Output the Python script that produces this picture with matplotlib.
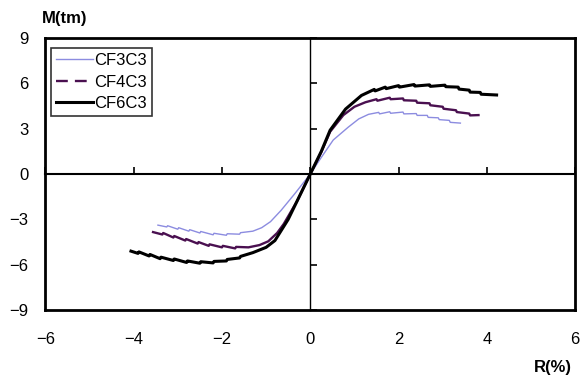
import matplotlib.pyplot as plt
from matplotlib.lines import Line2D

plt.rcParams['font.family'] = ['Liberation Sans', 'DejaVu Sans']

# CF3C3
x3 = [-3.45, -3.25, -3.23, -3.0, -2.98, -2.75, -2.73, -2.5, -2.48, -2.2, -2.18, -1.9, -1.88,
      -1.6, -1.58, -1.3, -1.1, -0.9, -0.66, -0.35, 0.0, 0.25, 0.52, 0.86, 1.1, 1.32, 1.55,
      1.57, 1.8, 1.82, 2.1, 2.12, 2.4, 2.42, 2.65, 2.67, 2.9, 2.92, 3.15, 3.17, 3.4]
y3 = [-3.38, -3.5, -3.42, -3.65, -3.55, -3.78, -3.68, -3.9, -3.8, -4.02, -3.92, -4.05, -3.95,
      -3.98, -3.88, -3.78, -3.55, -3.15, -2.4, -1.3, 0.0, 1.1, 2.25, 3.1, 3.65, 3.95, 4.08,
      3.98, 4.12, 4.02, 4.1, 3.98, 4.0, 3.88, 3.88, 3.75, 3.72, 3.6, 3.55, 3.42, 3.37]

# CF4C3
x4 = [-3.56, -3.35, -3.33, -3.1, -3.08, -2.83, -2.81, -2.55, -2.53, -2.3, -2.28, -2.0, -1.98,
      -1.7, -1.68, -1.4, -1.15, -0.95, -0.75, -0.6, -0.3, 0.0, 0.25, 0.45, 0.75, 1.0, 1.25,
      1.5, 1.52, 1.8, 1.82, 2.1, 2.12, 2.4, 2.42, 2.7, 2.72, 3.0, 3.02, 3.3, 3.32, 3.6, 3.62, 3.81]
y4 = [-3.84, -4.0, -3.9, -4.2, -4.1, -4.4, -4.3, -4.6, -4.5, -4.75, -4.65, -4.85, -4.75,
      -4.92, -4.82, -4.85, -4.7, -4.45, -3.9, -3.3, -1.8, 0.0, 1.45, 2.8, 3.9, 4.45, 4.75,
      4.95, 4.85, 5.05, 4.95, 5.0, 4.88, 4.85, 4.72, 4.68, 4.55, 4.45, 4.32, 4.22, 4.1, 4.0, 3.88, 3.9]

# CF6C3
x6 = [-4.06, -3.9, -3.88, -3.65, -3.63, -3.4, -3.38, -3.1, -3.08, -2.8, -2.78, -2.5, -2.48,
      -2.2, -2.18, -1.9, -1.88, -1.6, -1.58, -1.3, -1.0, -0.8, -0.5, -0.25, 0.0, 0.25, 0.45,
      0.8, 1.16, 1.45, 1.47, 1.7, 1.72, 2.0, 2.02, 2.35, 2.37, 2.7, 2.72, 3.05, 3.07, 3.35,
      3.37, 3.6, 3.62, 3.85, 3.87, 4.22]
y6 = [-5.1, -5.25, -5.15, -5.42, -5.32, -5.6, -5.5, -5.72, -5.62, -5.85, -5.75, -5.9, -5.8,
      -5.88, -5.78, -5.75, -5.65, -5.55, -5.45, -5.2, -4.85, -4.4, -3.0, -1.5, 0.0, 1.5, 2.9,
      4.3, 5.2, 5.6, 5.5, 5.75, 5.65, 5.85, 5.75, 5.92, 5.82, 5.9, 5.8, 5.88, 5.78, 5.75,
      5.62, 5.55, 5.42, 5.4, 5.28, 5.23]

xticks = [-6, -4, -2, 0, 2, 4, 6]
yticks = [-9, -6, -3, 0, 3, 6, 9]

fig = plt.figure(figsize=(5.81, 3.80), dpi=100)
rect = [0.078, 0.184, 0.912, 0.716]
ax = fig.add_axes(rect)

# overlay axes whose spines sit on the zero lines, ticks only
ax0 = fig.add_axes(rect, sharex=ax, sharey=ax)
ax0.patch.set_visible(False)
ax0.spines['left'].set_position(('data', 0))
ax0.spines['bottom'].set_position(('data', 0))
ax0.spines['right'].set_visible(False)
ax0.spines['top'].set_visible(False)
ax0.spines['left'].set_linewidth(1)
ax0.spines['bottom'].set_linewidth(1.5)
ax0.tick_params(direction='in', length=5, width=1.2, labelleft=False, labelbottom=False)

c3, c4, c6 = '#8c8ce0', '#4a1050', 'black'
ax0.plot(x3, y3, color=c3, lw=1.0)
ax0.plot(x4, y4, color=c4, lw=1.7)
ax0.plot(x6, y6, color=c6, lw=2.2)

ax.set_xlim(-6, 6)
ax.set_ylim(-9, 9)
ax.set_xticks(xticks)
ax.set_yticks(yticks)
ax.tick_params(length=0, labelsize=12)
ax.tick_params(axis='x', pad=16, labelbottom=True)
ax.tick_params(axis='y', pad=12, labelleft=True)
for s in ax.spines.values():
    s.set_linewidth(2)

handles = [Line2D([], [], color=c3, lw=1.0),
           Line2D([], [], color=c4, lw=1.7, dashes=(5, 3)),
           Line2D([], [], color=c6, lw=2.2)]
leg = ax0.legend(handles, ['CF3C3', 'CF4C3', 'CF6C3'], loc='upper left',
                 bbox_to_anchor=(0.0, 0.985), fontsize=12,
                 frameon=True, fancybox=False, edgecolor='black', handlelength=2.2,
                 handletextpad=0.1, borderpad=0.3, labelspacing=0.4, borderaxespad=0.35)
leg.get_frame().set_linewidth(1.2)

fig.text(0.072, 0.952, 'M(tm)', fontsize=12, fontweight='bold', va='center', ha='left')
fig.text(0.985, 0.032, 'R(%)', fontsize=12, fontweight='bold', va='center', ha='right')

fig.savefig('out.png', dpi=100)
